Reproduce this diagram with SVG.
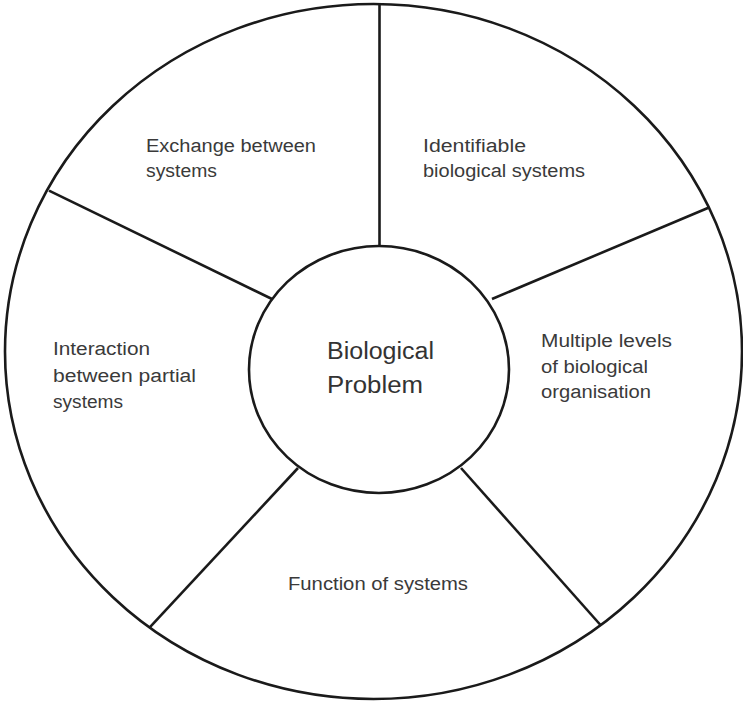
<svg xmlns="http://www.w3.org/2000/svg" width="743" height="702" viewBox="0 0 743 702">
<style>
.ln{stroke:#1a1a1a;stroke-width:2.6;fill:none}
.lbl{font-family:"Liberation Sans",Arial,sans-serif;font-size:18px;fill:#3a3a3a}
.ctr{font-family:"Liberation Sans",Arial,sans-serif;font-size:23px;fill:#333}
</style>
<rect width="743" height="702" fill="#fff"/>
<g id="outer"><ellipse class="ln" cx="373.5" cy="351.5" rx="368.5" ry="347.5"/></g>
<g id="connectors">
<line class="ln" x1="379.5" y1="4" x2="379.5" y2="246"/>
<line class="ln" x1="49" y1="190.6" x2="272" y2="299"/>
<line class="ln" x1="709" y1="207.5" x2="492" y2="299"/>
<line class="ln" x1="149.5" y1="627.7" x2="298" y2="468"/>
<line class="ln" x1="600.5" y1="625" x2="461" y2="468"/>
</g>
<g id="center"><ellipse class="ln" cx="379" cy="369.5" rx="130" ry="123.5" fill="#fff"/>
<text class="ctr"><tspan x="327" y="359" textLength="107" lengthAdjust="spacingAndGlyphs">Biological</tspan><tspan x="327" y="393" textLength="96" lengthAdjust="spacingAndGlyphs">Problem</tspan></text></g>
<g id="exchange"><text class="lbl"><tspan x="146" y="152" textLength="170" lengthAdjust="spacingAndGlyphs">Exchange between</tspan><tspan x="146" y="177" textLength="71" lengthAdjust="spacingAndGlyphs">systems</tspan></text></g>
<g id="identifiable"><text class="lbl"><tspan x="423" y="152" textLength="103" lengthAdjust="spacingAndGlyphs">Identifiable</tspan><tspan x="423" y="177" textLength="162" lengthAdjust="spacingAndGlyphs">biological systems</tspan></text></g>
<g id="interaction"><text class="lbl"><tspan x="53" y="355" textLength="97" lengthAdjust="spacingAndGlyphs">Interaction</tspan><tspan x="53" y="382" textLength="143" lengthAdjust="spacingAndGlyphs">between partial</tspan><tspan x="53" y="408" textLength="70" lengthAdjust="spacingAndGlyphs">systems</tspan></text></g>
<g id="multiple"><text class="lbl"><tspan x="541" y="347" textLength="131" lengthAdjust="spacingAndGlyphs">Multiple levels</tspan><tspan x="541" y="373" textLength="107" lengthAdjust="spacingAndGlyphs">of biological</tspan><tspan x="541" y="398" textLength="110" lengthAdjust="spacingAndGlyphs">organisation</tspan></text></g>
<g id="function"><text class="lbl"><tspan x="288" y="590" textLength="180" lengthAdjust="spacingAndGlyphs">Function of systems</tspan></text></g>
</svg>
